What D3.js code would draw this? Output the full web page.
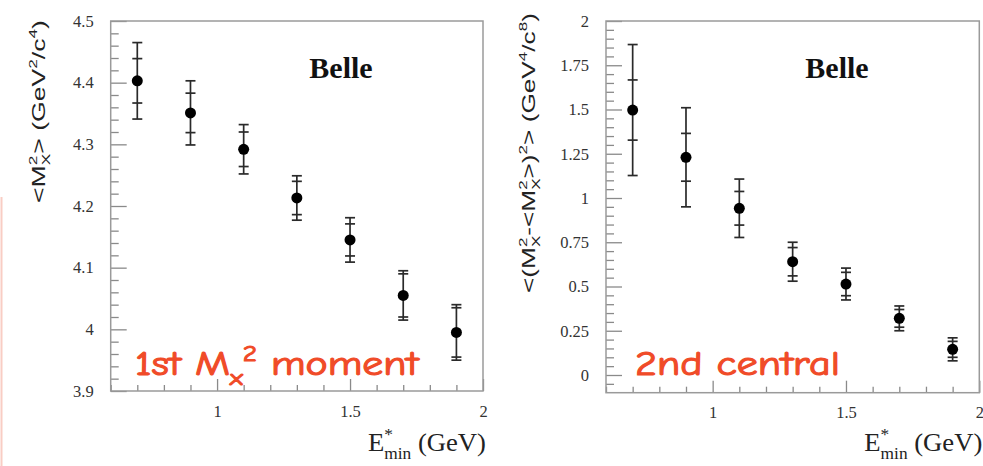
<!DOCTYPE html>
<html>
<head>
<meta charset="utf-8">
<script src="https://cdn.jsdelivr.net/npm/d3@7"></script>
<style>
  html, body { margin: 0; padding: 0; background: #fff; }
  svg { display: block; }
</style>
</head>
<body>
<div id="chart"></div>
<script>
// E*min cut values (GeV)
const emin = [0.7, 0.9, 1.1, 1.3, 1.5, 1.7, 1.9];

// first moment <Mx^2>, inner (stat) and outer (total) errors
const m1 = [4.403, 4.351, 4.292, 4.213, 4.145, 4.055, 3.995];
const m1Stat = [0.036, 0.032, 0.028, 0.027, 0.026, 0.035, 0.040];
const m1Tot = [0.062, 0.052, 0.040, 0.036, 0.036, 0.040, 0.045];

// second central moment
const m2 = [1.497, 1.23, 0.942, 0.64, 0.514, 0.32, 0.145];
const m2Stat = [0.17, 0.135, 0.095, 0.08, 0.066, 0.05, 0.045];
const m2Tot = [0.37, 0.28, 0.165, 0.11, 0.09, 0.07, 0.065];

const xTicks = [1, 1.5, 2];
const xTickLabels = ["1", "1.5", "2"];
const y1Ticks = [3.9, 4.0, 4.1, 4.2, 4.3, 4.4, 4.5];
const y1TickLabels = ["3.9", "4", "4.1", "4.2", "4.3", "4.4", "4.5"];
const y2Ticks = [0, 0.25, 0.5, 0.75, 1, 1.25, 1.5, 1.75, 2];
const y2TickLabels = ["0", "0.25", "0.5", "0.75", "1", "1.25", "1.5", "1.75", "2"];

const W = 983, H = 466;
const serif = "'Liberation Serif', 'Times New Roman', serif";
const sans = "'Liberation Sans', Arial, sans-serif";
const comic = "'Comic Sans MS', 'Comic Neue', Lato, sans-serif";

const svg = d3.select("#chart").append("svg")
  .attr("width", W).attr("height", H);

svg.append("rect").attr("width", W).attr("height", H).attr("fill", "#fff");

// faint pink edge on the far left
svg.append("line")
  .attr("x1", 1.5).attr("x2", 1.5).attr("y1", 197).attr("y2", H)
  .attr("stroke", "#f9cdc4").attr("stroke-width", 2);

// rich text: parts are strings, {sub}, {sup}, or {stack:[sub, sup]}
function rich(text, parts, fs) {
  let shift = 0, pendDx = 0;
  const put = (str, small, off, dx) => {
    const t = text.append("tspan").text(str);
    if (small) t.attr("font-size", fs * 0.65);
    t.attr("dy", off - shift);
    if (dx || pendDx) t.attr("dx", (dx || 0) + pendDx);
    pendDx = 0;
    shift = off;
    return t;
  };
  parts.forEach(p => {
    if (typeof p === "string") put(p, false, 0);
    else if (p.sub !== undefined) put(p.sub, true, fs * 0.3);
    else if (p.sup !== undefined) put(p.sup, true, -fs * 0.42);
    else if (p.stack) {
      const s = put(p.stack[0], true, fs * 0.3);
      const ws = s.node().getComputedTextLength();
      const u = put(p.stack[1], true, -fs * 0.42, -ws);
      const wu = u.node().getComputedTextLength();
      pendDx = Math.max(0, ws - wu);
    }
  });
  return text;
}

function fitWidth(text, target) {
  const w = text.node().getBBox().width;
  return target / w;
}

function panel(cfg) {
  const x = d3.scaleLinear().domain([0.6, 2]).range([cfg.left, cfg.right]);
  const y = d3.scaleLinear().domain(cfg.yDomain).range([cfg.bottom, cfg.top]);
  const g = svg.append("g");

  // minor ticks
  const xMinor = d3.range(6, 21).map(d => d / 10).filter(v => xTicks.indexOf(v) < 0);
  g.append("g").attr("transform", `translate(0,${cfg.bottom})`)
    .call(d3.axisBottom(x).tickValues(xMinor).tickSize(-6).tickFormat(""));
  g.append("g").attr("transform", `translate(${cfg.left},0)`)
    .call(d3.axisLeft(y).tickValues(cfg.yMinor).tickSize(-8).tickFormat(""));

  // major ticks
  g.append("g").attr("class", "xmaj").attr("transform", `translate(0,${cfg.bottom})`)
    .call(d3.axisBottom(x).tickValues(xTicks).tickSize(-12).tickPadding(14)
      .tickFormat((d, i) => xTickLabels[i]));
  g.append("g").attr("class", "ymaj").attr("transform", `translate(${cfg.left},0)`)
    .call(d3.axisLeft(y).tickValues(cfg.yTicks).tickSize(-16).tickPadding(17)
      .tickFormat((d, i) => cfg.yTickLabels[i]));

  g.selectAll(".domain").remove();
  g.selectAll(".tick line").attr("stroke", "#8a8a8a").attr("stroke-width", 1.3);
  g.selectAll(".tick text").attr("font-family", serif).attr("font-size", 16.5).attr("fill", "#333");

  // frame
  g.append("rect")
    .attr("x", cfg.left).attr("y", cfg.top)
    .attr("width", cfg.right - cfg.left).attr("height", cfg.bottom - cfg.top)
    .attr("fill", "none").attr("stroke", "#9a9a9a").attr("stroke-width", 1.5);

  // error bars
  const pts = emin.map((e, i) => ({ e, v: cfg.vals[i], s: cfg.stat[i], t: cfg.tot[i] }));
  const eb = g.append("g").attr("stroke", "#2a2a2a").attr("stroke-width", 1.7);
  eb.selectAll("line.bar").data(pts).join("line").attr("class", "bar")
    .attr("x1", d => x(d.e)).attr("x2", d => x(d.e))
    .attr("y1", d => y(d.v - d.t)).attr("y2", d => y(d.v + d.t));
  const caps = pts.flatMap(d => [d.v - d.t, d.v + d.t, d.v - d.s, d.v + d.s].map(c => ({ e: d.e, c })));
  eb.selectAll("line.cap").data(caps).join("line").attr("class", "cap")
    .attr("x1", d => x(d.e) - 5).attr("x2", d => x(d.e) + 5)
    .attr("y1", d => y(d.c)).attr("y2", d => y(d.c));

  g.selectAll("circle").data(pts).join("circle")
    .attr("cx", d => x(d.e)).attr("cy", d => y(d.v)).attr("r", 5.5)
    .attr("fill", "#000");

  // Belle
  g.append("text").attr("x", cfg.belleX).attr("y", 78)
    .attr("text-anchor", "middle").attr("font-family", serif)
    .attr("font-weight", "bold").attr("font-size", 30).attr("fill", "#111")
    .text("Belle");

  // x axis title
  const xt = g.append("text").attr("font-family", serif).attr("font-size", 26).attr("fill", "#222");
  rich(xt, ["E", { stack: ["min", "*"] }, " (GeV)"], 26);
  const sx = fitWidth(xt, 118);
  const bw = xt.node().getBBox().width;
  xt.attr("transform", `translate(${cfg.right + 3 - bw * sx},451) scale(${sx},1)`);

  // y axis title
  const yt = g.append("text").attr("font-family", sans).attr("font-size", 18)
    .attr("fill", "#222").attr("text-anchor", "middle");
  rich(yt, cfg.yTitle, 18);
  const sy = fitWidth(yt, cfg.yTitleLen);
  yt.attr("transform", `translate(${cfg.yTitleX},${cfg.yTitleY}) rotate(-90) scale(${sy},1)`);

  // red annotation
  const rt = g.append("text").attr("font-family", comic).attr("font-size", 34)
    .attr("fill", "#f04b28").attr("stroke", "#f04b28").attr("stroke-width", 1.1);
  rich(rt, cfg.note, 34);
  const sr = fitWidth(rt, cfg.noteLen);
  rt.attr("transform", `translate(${cfg.noteX},375) scale(${sr},1)`);
}

panel({
  left: 110.7, right: 483, top: 21, bottom: 391,
  yDomain: [3.9, 4.5],
  yTicks: y1Ticks, yTickLabels: y1TickLabels,
  yMinor: d3.range(195, 226).map(d => d / 50).filter(v => Math.abs(v * 10 - Math.round(v * 10)) > 1e-6),
  vals: m1, stat: m1Stat, tot: m1Tot,
  belleX: 341,
  yTitle: ["<M", { stack: ["X", "2"] }, "> (GeV", { sup: "2" }, "/c", { sup: "4" }, ")"],
  yTitleX: 44.5, yTitleY: 111.5, yTitleLen: 183,
  note: ["1st M", { sub: "x" }, { sup: "2" }, " moment"], noteX: 135, noteLen: 285
});

panel({
  left: 606, right: 979.3, top: 21, bottom: 392.7,
  yDomain: [-0.1, 2],
  yTicks: y2Ticks, yTickLabels: y2TickLabels,
  yMinor: d3.range(-1, 41).map(d => d / 20).filter(v => Math.abs(v * 4 - Math.round(v * 4)) > 1e-6),
  vals: m2, stat: m2Stat, tot: m2Tot,
  belleX: 837,
  yTitle: ["<(M", { stack: ["X", "2"] }, "-<M", { stack: ["X", "2"] }, ">)", { sup: "2" }, "> (GeV", { sup: "4" }, "/c", { sup: "8" }, ")"],
  yTitleX: 535, yTitleY: 153, yTitleLen: 280,
  note: ["2nd central"], noteX: 635, noteLen: 205
});
</script>
</body>
</html>
